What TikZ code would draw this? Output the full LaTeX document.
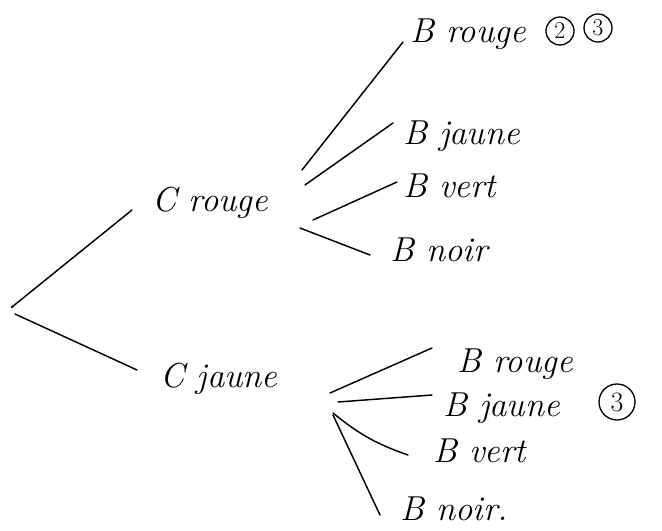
\documentclass[tikz,border=0pt]{standalone}
\begin{document}
\begin{tikzpicture}[x=0.75pt,y=-0.75pt,
  branch/.style={line width=1.1pt, line cap=round},
  lbl/.style={font=\fontsize{26}{30}\selectfont\itshape, inner sep=0pt, anchor=base west},
  circnum/.style={draw, circle, line width=1pt, inner sep=1pt, minimum size=21pt, font=\fontsize{18}{20}\selectfont}]
\useasboundingbox (0,0) rectangle (662,531);
% nodes
\coordinate (root) at (12,307);
\node[lbl] (cr) at (152,212) {C rouge};
\node[lbl] (cj) at (160,388) {C jaune};
\node[lbl] (r1) at (410,43) {B rouge};
\node[circnum] (n2) at (560,31) {2};
\node[circnum] (n3) at (598,28) {3};
\node[lbl] (r2) at (403,145) {B jaune};
\node[lbl] (r3) at (403,198) {B vert};
\node[lbl] (r4) at (390,262) {B noir};
\node[lbl] (j1) at (457,373) {B rouge};
\node[lbl] (j2) at (443,417) {B jaune};
\node[circnum, minimum size=27pt, font=\fontsize{21}{22}\selectfont] (n3b) at (617,402) {3};
\node[lbl] (j3) at (433,463) {B vert};
\node[lbl] (j4) at (400,521) {B noir.};
% connector ends
\coordinate (crIn) at (132,210);
\coordinate (cjIn) at (137,370);
\coordinate (root2) at (15,314);
\coordinate (cr1) at (302,170);
\coordinate (cr2) at (305,185);
\coordinate (cr3) at (313,220);
\coordinate (cr4) at (300,228);
\coordinate (r1In) at (403,42);
\coordinate (r2In) at (393,123);
\coordinate (r3In) at (397,182);
\coordinate (r4In) at (370,255);
\coordinate (cj1) at (330,393);
\coordinate (cj2) at (338,402);
\coordinate (cj3) at (333,413);
\coordinate (cj4) at (333,415);
\coordinate (j1In) at (432,348);
\coordinate (j2In) at (432,395);
\coordinate (j3In) at (408,455);
\coordinate (j4In) at (380,515);
% connectors
\draw[branch] (root) -- (crIn);
\draw[branch] (root2) -- (cjIn);
\draw[branch] (cr1) -- (r1In);
\draw[branch] (cr2) -- (r2In);
\draw[branch] (cr3) -- (r3In);
\draw[branch] (cr4) -- (r4In);
\draw[branch] (cj1) -- (j1In);
\draw[branch] (cj2) -- (j2In);
\draw[branch] (cj3) to[bend right=10] (j3In);
\draw[branch] (cj4) -- (j4In);
\fill (root) circle (1.3);
\end{tikzpicture}
\end{document}
